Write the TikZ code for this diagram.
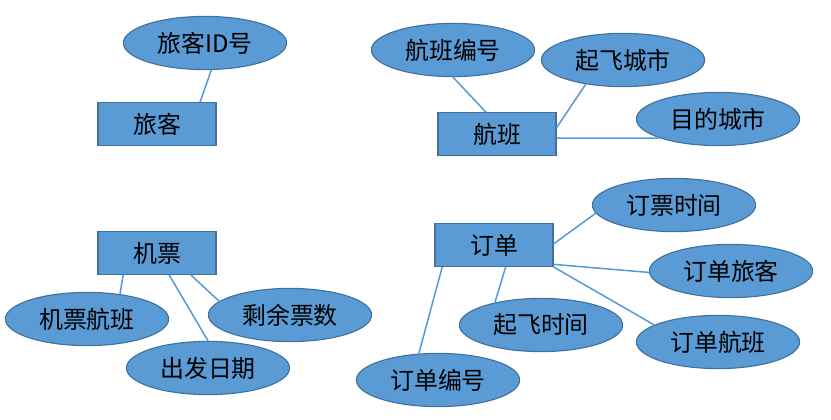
\documentclass[tikz,border=0pt]{standalone}
\usepackage{fontspec}
\newfontfamily\cjk{Noto Sans CJK SC}
\usetikzlibrary{shapes.geometric}
\definecolor{EntClr}{HTML}{5B9BD5}
\definecolor{EdgeClr}{HTML}{41719C}

\begin{document}
\begin{tikzpicture}[x=0.025cm,y=-0.025cm,
  entity/.style={draw=EdgeClr,fill=EntClr,line width=0.8pt,minimum width=2.95cm,minimum height=1.07cm,inner sep=0pt,font=\cjk\fontsize{17}{19}\selectfont},
  attrib/.style={ellipse,draw=EdgeClr,fill=EntClr,line width=0.8pt,minimum width=4.08cm,minimum height=1.33cm,inner sep=0pt,font=\cjk\fontsize{17}{19}\selectfont},
  link/.style={draw=EntClr,line width=1.1pt}]
\useasboundingbox (0,0) rectangle (831,420);

\node[entity] (lk) at (157,124) {旅客};
\node[attrib] (lkid) at (205,43) {旅客ID号};

\node[entity] (hb) at (497,134) {航班};
\node[attrib] (hbbh) at (453,50) {航班编号};
\node[attrib] (qfcs) at (623,60) {起飞城市};
\node[attrib] (mdcs) at (718,119) {目的城市};

\node[entity] (jp) at (157,253) {机票};
\node[attrib] (jphb) at (87,319) {机票航班};
\node[attrib] (cfrq) at (208,368) {出发日期};
\node[attrib] (syps) at (290,315) {剩余票数};

\node[entity] (dd) at (494,245) {订单};
\node[attrib] (dpsj) at (674,205) {订票时间};
\node[attrib] (ddlk) at (731,271) {订单旅客};
\node[attrib] (qfsj) at (541,325) {起飞时间};
\node[attrib] (ddhb) at (718,342) {订单航班};
\node[attrib] (ddbh) at (438,380) {订单编号};

\draw[link] (lk.27) -- (lkid.-77);

\draw[link] (hb.117) -- (hbbh.-90);
\draw[link] (hb.6) -- (qfcs.-147);
\draw[link] (hb.-4) -- (mdcs.-162);

\draw[link] (jp.-147) -- (jphb.37);
\draw[link] (jp.-61) -- (cfrq.90);
\draw[link] (jp.-33) -- (syps.169);

\draw[link] (dd.1) -- (dpsj.-174);
\draw[link] (dd.-18) -- (ddlk.-179);
\draw[link] (dd.south east) -- (ddhb.165);
\draw[link] (dd.-62) -- (qfsj.154);
\draw[link] (dd.-157) -- (ddbh.126);

\end{tikzpicture}
\end{document}
